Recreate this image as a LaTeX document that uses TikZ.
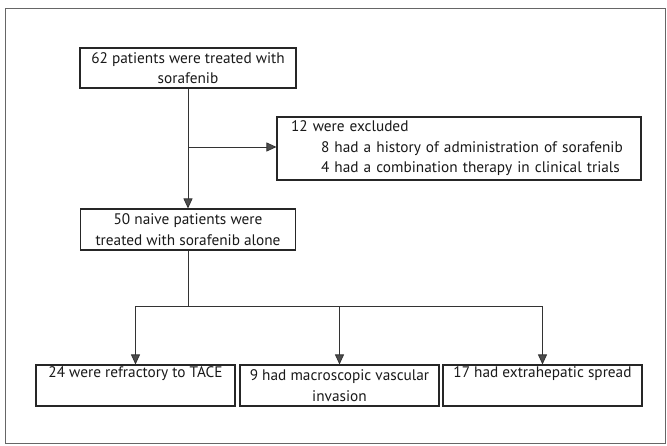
\documentclass[tikz,border=0pt]{standalone}
\usepackage{fontspec}
\setmainfont{PT Sans}
\usetikzlibrary{arrows.meta}
\begin{document}
\begin{tikzpicture}[x=1pt,y=-1pt,
  box/.style={draw=black!85,line width=1.1pt,rectangle,inner sep=0pt,align=center,
    font=\fontsize{15.3}{20.5}\selectfont,text=black!90},
  conn/.style={draw=black!80,line width=0.8pt},
  arr/.style={conn,-{Triangle[length=10pt,width=9pt,fill=black!70]}}]
\useasboundingbox (0,0) rectangle (667,445);
\draw[black!60,line width=0.8pt] (5,8) rectangle (665,443);
\node[box,minimum width=216pt,minimum height=40pt] (b1) at (188,68)
  {62 patients were treated with\\sorafenib};
\node[box,minimum width=364pt,minimum height=63pt,align=left,text width=336pt] (ex) at (459,148.5)
  {12 were excluded\\\hspace*{30pt}8 had a history of administration of sorafenib\\\hspace*{30pt}4 had a combination therapy in clinical trials};
\node[box,minimum width=215pt,minimum height=41pt] (b2) at (188,229.5)
  {50 naive patients were\\treated with sorafenib alone};
\node[box,minimum width=199pt,minimum height=41pt] (c1) at (135.5,385.5)
  {24 were refractory to TACE\\\strut};
\node[box,minimum width=199pt,minimum height=41pt] (c2) at (339.5,385.5)
  {9 had macroscopic vascular\\invasion};
\node[box,minimum width=199pt,minimum height=41pt] (c3) at (542.5,385.5)
  {17 had extrahepatic spread\\\strut};
\coordinate (j1) at (188,147);
\coordinate (j2) at (188,306);
\draw[arr] (b1.south) -- (b2.north);
\draw[arr] (j1) -- (ex.west |- j1);
\draw[conn] (b2.south) -- (j2);
\draw[arr] (j2) -| (c1.north);
\draw[arr] (j2) -| (c3.north);
\draw[arr] (c2.north |- j2) -- (c2.north);
\end{tikzpicture}
\end{document}
